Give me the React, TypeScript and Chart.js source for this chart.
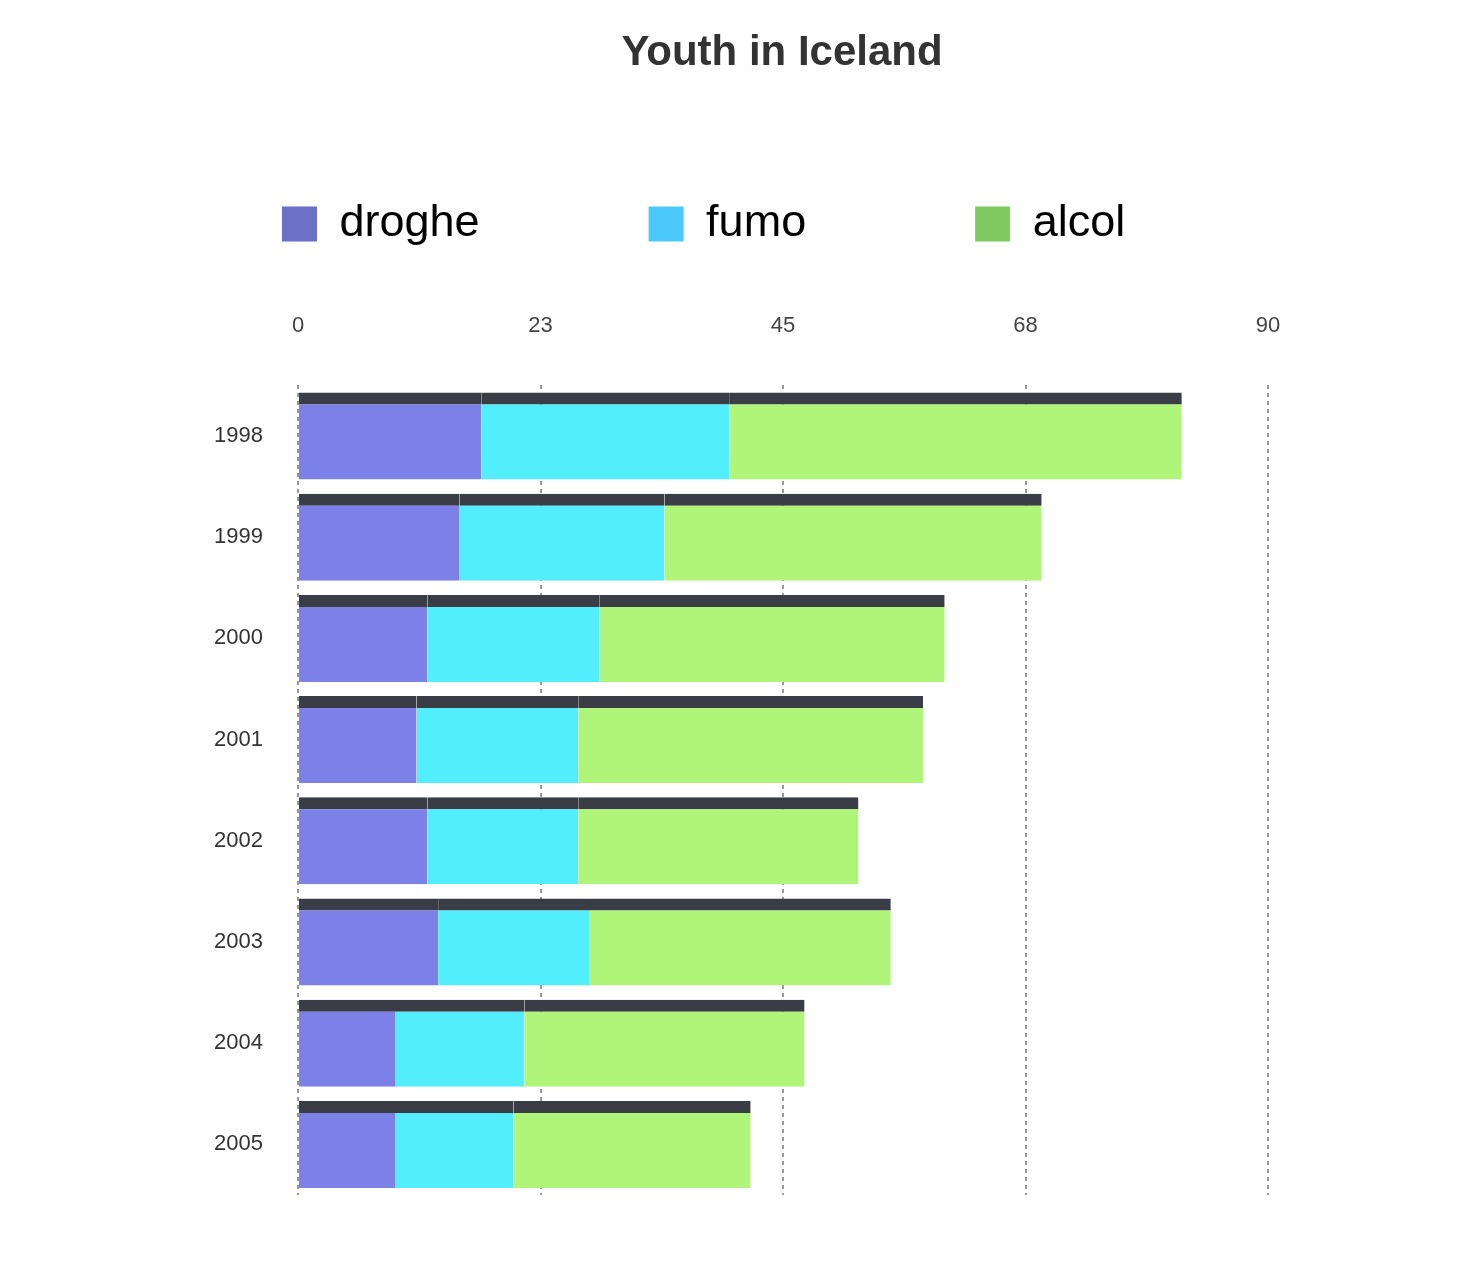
import React, { useEffect, useRef } from "react";
import { Chart, registerables } from "chart.js";

Chart.register(...registerables);

const years = ["1998", "1999", "2000", "2001", "2002", "2003", "2004", "2005"];
const droghe = [17, 15, 12, 11, 12, 13, 9, 9];
const fumo = [23, 19, 16, 15, 14, 14, 12, 11];
const alcol = [42, 35, 32, 32, 26, 28, 26, 22];
const seriesNames = ["droghe", "fumo", "alcol"];
const legendColors = ["#6c70c6", "#4cc9fb", "#80c860"];
const barColors = ["#7c81e8", "#52eefe", "#aef57a"];
const topColor = "#3a3c46";
const axisMax = 90;
const axisStep = 22.5;

const FONT = "'Liberation Sans', Arial, Helvetica, sans-serif";

export default function App() {
  const ref = useRef<HTMLCanvasElement | null>(null);

  useEffect(() => {
    if (!ref.current) return;
    const values = [droghe, fumo, alcol];
    const chart = new Chart(ref.current, {
      type: "bar",
      data: {
        labels: years,
        datasets: seriesNames.map((name, i) => ({
          label: name,
          data: values[i],
          backgroundColor: barColors[i],
          borderColor: topColor,
          borderWidth: { top: 12, left: 0, right: 0, bottom: 0 },
          borderSkipped: false,
          barPercentage: 1,
          categoryPercentage: 0.86,
        })),
      },
      options: {
        indexAxis: "y",
        animation: false,
        responsive: true,
        maintainAspectRatio: false,
        layout: { padding: { top: 0, left: 113, right: 18, bottom: 78 } },
        scales: {
          x: {
            position: "top",
            stacked: true,
            min: 0,
            max: axisMax,
            grid: {
              color: "#999999",
              lineWidth: 2,
              drawTicks: false,
            },
            border: { display: false, dash: [4, 4] },
            ticks: {
              stepSize: axisStep,
              padding: 46,
              color: "#444444",
              font: { family: FONT, size: 22 },
              callback: (v: any) => String(Math.round(Number(v))),
            },
            afterFit: (axis: any) => {
              axis.height = 129;
            },
          },
          y: {
            stacked: true,
            grid: { display: false, drawTicks: false },
            border: { display: false },
            ticks: {
              padding: 35,
              color: "#333333",
              font: { family: FONT, size: 22 },
            },
            afterFit: (axis: any) => {
              axis.width = 185;
            },
          },
          yRight: {
            type: "linear",
            position: "right",
            display: true,
            grid: { display: false, drawTicks: false },
            border: { display: false },
            ticks: { display: false },
            afterFit: (axis: any) => {
              axis.width = 183;
            },
          },
        },
        plugins: {
          title: {
            display: true,
            text: "Youth in Iceland",
            color: "#333333",
            font: { family: FONT, size: 42, weight: "bold" },
            padding: { top: 28, bottom: -46 },
          },
          legend: {
            display: true,
            position: "top",
            align: "start",
            labels: {
              color: "#000000",
              font: { family: FONT, size: 45 },
              boxWidth: 35,
              boxHeight: 35,
              padding: 169,
              generateLabels: () =>
                seriesNames.map((name, i) => ({
                  text: name,
                  fillStyle: legendColors[i],
                  strokeStyle: legendColors[i],
                  lineWidth: 0,
                  hidden: false,
                  datasetIndex: i,
                  fontColor: "#000000",
                })),
            },
          },
          tooltip: { enabled: false },
        },
      },
    });
    return () => chart.destroy();
  }, []);

  return (
    <div style={{ position: "fixed", left: 0, top: 0, width: 1469, height: 1273, background: "#ffffff" }}>
      <canvas ref={ref} />
    </div>
  );
}
